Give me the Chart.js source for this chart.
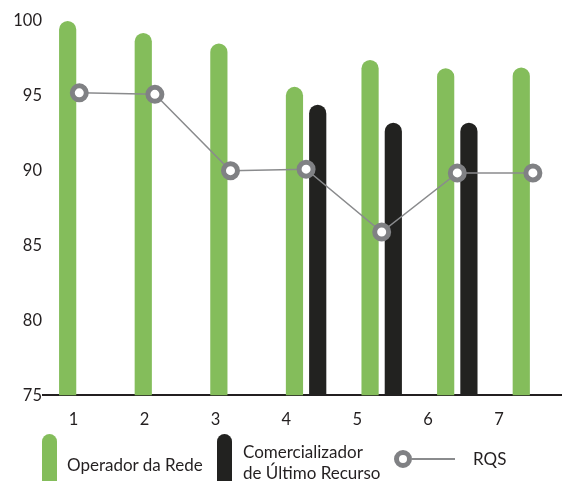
<!DOCTYPE html>
<html>
<head>
<meta charset="utf-8">
<script src="https://cdn.jsdelivr.net/npm/chart.js@4"></script>
<style>
html,body{margin:0;padding:0;background:#fff;overflow:hidden;}
#wrap{position:relative;width:562px;height:481px;overflow:hidden;font-family:Lato,sans-serif;color:#231f20;}
#grafico{position:absolute;left:0;top:0;}
#leyenda div{position:absolute;}
.txt{font-size:17px;line-height:21px;white-space:nowrap;}
.sw{top:434px;width:15px;height:60px;border-radius:8px 8px 0 0;}
</style>
</head>
<body>
<div id="wrap">
  <canvas id="grafico" width="562" height="449"></canvas>
  <div id="leyenda"></div>
</div>
<script>
// datos
const categorias = ['1','2','3','4','5','6','7'];
const operadorRede = [100, 99.2, 98.5, 95.6, 97.4, 96.85, 96.9];
const comercializador = [null, null, null, 94.4, 93.2, 93.2, null];
const rqs = [95.2, 95.1, 90, 90.1, 85.9, 89.85, 89.85];
const ticksY = [75, 80, 85, 90, 95, 100];

const VERDE = '#84bd5b';
const NEGRO = '#222220';
const GRIS = '#808184';

const pts = arr => arr.map((v, i) => ({x: i + 1, y: v}));

let charts = {};

function crearGrafico(){
  const canvas = document.getElementById('grafico');
  if(charts.grafico) charts.grafico.destroy();

  charts.grafico = new Chart(canvas, {
    data: {
      datasets: [
        {
          type: 'line', label: 'RQS', data: pts(rqs), order: 0,
          borderColor: '#8a8b8d', borderWidth: 1.5,
          pointRadius: 7, pointBorderWidth: 5,
          pointBorderColor: GRIS, pointBackgroundColor: '#fff'
        },
        {
          type: 'bar', label: 'Operador da Rede', data: pts(operadorRede), order: 1,
          backgroundColor: VERDE,
          borderRadius: {topLeft: 9, topRight: 9}, borderSkipped: 'start',
          categoryPercentage: 0.615, barPercentage: 0.74
        },
        {
          type: 'bar', label: 'Comercializador de Último Recurso', data: pts(comercializador), order: 1,
          backgroundColor: NEGRO,
          borderRadius: {topLeft: 9, topRight: 9}, borderSkipped: 'start',
          categoryPercentage: 0.615, barPercentage: 0.74
        }
      ]
    },
    options: {
      responsive: false,
      animation: false,
      layout: {autoPadding: false, padding: {top: 21, right: 0, bottom: 4, left: 0}},
      plugins: {legend: {display: false}, tooltip: {enabled: false}},
      scales: {
        x: {
          type: 'linear', display: false, offset: false,
          min: 0.52, max: 7.385
        },
        xEtiquetas: {
          type: 'linear', position: 'bottom', offset: false,
          min: 0.568, max: 7.888,
          grid: {display: false, drawTicks: false},
          border: {display: true, color: '#231f20', width: 2},
          ticks: {
            stepSize: 1, includeBounds: false, padding: 15,
            color: '#231f20', font: {family: 'Lato', size: 16.5},
            callback: v => categorias[v - 1] || ''
          }
        },
        y: {
          min: 75, max: 100,
          grid: {display: false, drawTicks: false},
          border: {display: false},
          afterFit: s => { s.width = 43; },
          afterBuildTicks: s => { s.ticks = ticksY.map(v => ({value: v})); },
          ticks: {
            padding: 1, color: '#231f20', font: {family: 'Lato', size: 16.5}
          }
        }
      }
    }
  });
}

function crearLeyenda(){
  const el = document.getElementById('leyenda');
  el.innerHTML =
    '<div class="sw" style="left:42px;background:' + VERDE + '"></div>' +
    '<div class="txt" style="left:67px;top:454px">Operador da Rede</div>' +
    '<div class="sw" style="left:217px;background:' + NEGRO + '"></div>' +
    '<div class="txt" style="left:243px;top:441px">Comercializador<br>de Último Recurso</div>' +
    '<div style="left:394px;top:450px;width:8px;height:8px;border:5px solid ' + GRIS + ';border-radius:50%;box-sizing:content-box"></div>' +
    '<div style="left:411px;top:458px;width:44px;height:1.5px;background:#8a8b8d"></div>' +
    '<div class="txt" style="left:473px;top:448px">RQS</div>';
}

crearGrafico();
crearLeyenda();
</script>
</body>
</html>
